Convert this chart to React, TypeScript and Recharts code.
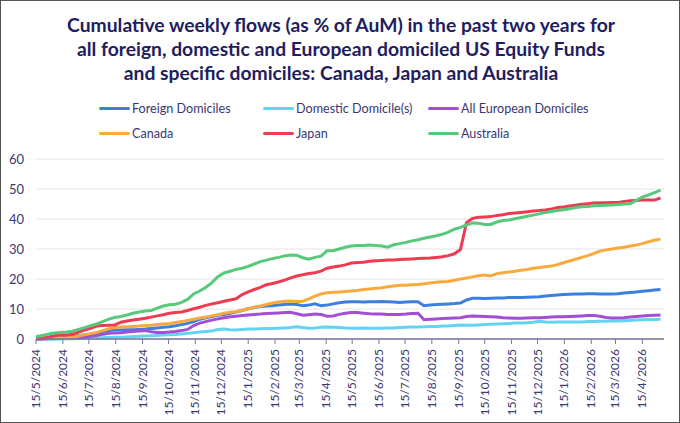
import React from "react";
import { LineChart, Line, XAxis, YAxis, CartesianGrid } from "recharts";

const START = Date.UTC(2024, 4, 15);
const DAY = 86400000;

const foreign = [0,0.1,0.3,0.5,0.7,0.8,1.0,1.2,1.4,1.6,2.0,2.5,2.8,3.0,3.0,3.1,3.1,3.2,3.3,3.5,3.7,3.9,4.1,4.4,4.8,5.2,5.8,6.6,7.1,7.5,7.9,8.2,8.6,9.0,9.5,10.1,10.5,10.8,11.0,11.1,11.3,11.5,11.7,11.5,11.1,11.3,11.7,11.1,11.3,11.7,12.1,12.3,12.4,12.4,12.3,12.4,12.4,12.5,12.4,12.3,12.2,12.3,12.4,12.4,11.1,11.3,11.5,11.6,11.7,11.8,12.0,13.0,13.6,13.6,13.5,13.6,13.7,13.7,13.8,13.8,13.8,13.9,14.0,14.1,14.3,14.5,14.7,14.8,14.9,15.0,15.0,15.1,15.1,15.0,15.0,15.0,15.1,15.3,15.5,15.7,15.9,16.1,16.3,16.5];
const domestic = [0,0,0,0,0,0.1,0.1,0.2,0.2,0.3,0.3,0.4,0.5,0.6,0.6,0.7,0.8,0.9,1.0,1.1,1.2,1.3,1.4,1.5,1.7,1.9,2.1,2.3,2.5,2.7,3.2,3.3,3.1,3.0,3.2,3.3,3.3,3.4,3.5,3.5,3.6,3.7,3.8,4.1,3.8,3.6,3.7,3.9,4.0,3.9,3.8,3.7,3.6,3.6,3.7,3.6,3.6,3.6,3.7,3.7,3.8,3.9,4.0,4.0,4.1,4.2,4.2,4.3,4.3,4.5,4.7,4.6,4.6,4.7,4.8,4.9,5.0,5.1,5.2,5.3,5.3,5.4,5.6,5.9,5.7,5.6,5.7,5.7,5.7,5.7,5.7,5.8,5.8,5.9,5.9,6.0,6.0,6.1,6.2,6.3,6.4,6.5,6.5,6.6];
const european = [0,0,0.1,0.2,0.3,0.4,0.5,0.6,0.7,0.9,1.2,1.6,1.9,2.0,2.1,2.3,2.5,2.7,2.8,2.4,2.2,2.2,2.3,2.5,2.8,3.2,4.5,5.3,5.8,6.3,6.7,7.1,7.4,7.6,7.8,8.0,8.2,8.3,8.5,8.6,8.7,8.8,8.9,8.4,7.9,8.1,8.3,8.2,7.6,7.7,8.2,8.6,8.8,8.8,8.6,8.4,8.3,8.3,8.2,8.2,8.2,8.3,8.5,8.6,6.4,6.6,6.7,6.8,6.9,7.0,7.1,7.5,7.7,7.6,7.5,7.4,7.3,7.1,7.0,6.9,6.9,7.0,7.1,7.1,7.2,7.3,7.4,7.4,7.5,7.6,7.7,7.8,7.8,7.6,7.2,7.0,7.0,7.1,7.3,7.5,7.7,7.8,7.9,8.0];
const canada = [0.3,0.4,0.5,0.6,0.4,0.3,0.6,1.0,1.4,1.8,2.2,2.8,3.4,3.8,4.0,4.1,4.2,4.3,4.5,4.6,4.8,5.0,5.2,5.5,5.8,6.2,6.6,7.0,7.3,7.7,8.1,8.6,8.9,9.1,9.6,10.1,10.6,11.0,11.5,12.0,12.3,12.6,12.7,12.5,12.6,13.4,14.3,15.0,15.4,15.6,15.7,15.8,16.0,16.2,16.5,16.7,16.9,17.1,17.4,17.7,17.9,17.9,18.1,18.2,18.4,18.7,18.9,19.1,19.2,19.6,20.0,20.3,20.7,21.1,21.3,21.0,21.8,22.1,22.3,22.6,22.9,23.2,23.6,23.8,24.1,24.3,24.8,25.4,26.0,26.6,27.2,27.8,28.5,29.3,29.7,30.0,30.3,30.6,31.0,31.3,31.8,32.4,32.9,33.3];
const japan = [0,0.2,0.6,1.1,1.4,1.3,1.6,2.3,3.0,3.6,4.3,4.5,4.6,4.7,5.6,6.0,6.3,6.6,6.9,7.3,7.7,8.1,8.6,8.8,9.0,9.5,10.1,10.6,11.2,11.7,12.1,12.6,13.0,13.4,14.8,15.7,16.5,17.2,18.1,18.5,19.0,19.6,20.4,21.0,21.4,21.8,22.1,22.6,23.6,24.0,24.3,24.7,25.3,25.5,25.6,25.9,26.1,26.2,26.3,26.3,26.5,26.6,26.7,26.8,26.9,27.0,27.2,27.4,27.8,28.4,29.8,38.8,40.2,40.6,40.7,40.8,41.2,41.4,41.8,42.0,42.2,42.4,42.7,42.8,43.0,43.3,43.8,44.0,44.3,44.6,44.9,45.1,45.3,45.4,45.4,45.5,45.5,45.8,46.1,46.2,46.3,46.3,46.3,47.0];
const australia = [0.8,1.2,1.6,2.0,2.2,2.3,2.6,3.2,3.8,4.4,5.0,5.8,6.6,7.2,7.5,8.0,8.6,9.0,9.3,9.5,10.3,11.0,11.4,11.6,12.2,13.2,15.0,16.0,17.2,18.8,20.8,22.0,22.6,23.2,23.6,24.2,25.0,25.8,26.3,26.8,27.2,27.7,28.0,27.9,27.1,26.6,27.2,27.6,29.4,29.4,30.0,30.6,31.0,31.2,31.2,31.3,31.2,31.0,30.6,31.4,31.8,32.2,32.7,33.1,33.6,34.0,34.4,34.9,35.6,36.6,37.2,38.0,38.7,38.6,38.2,38.2,39.0,39.5,39.7,40.1,40.5,40.9,41.3,41.7,42.2,42.5,42.8,43.1,43.4,43.8,44.1,44.2,44.4,44.5,44.6,44.7,44.8,45.0,45.1,46.2,47.3,48.0,48.8,49.6];

const seriesDefs = [
  { key: "foreign", name: "Foreign Domiciles", color: "#3c7fde", values: foreign },
  { key: "domestic", name: "Domestic Domicile(s)", color: "#62d4f2", values: domestic },
  { key: "european", name: "All European Domiciles", color: "#a24fd6", values: european },
  { key: "canada", name: "Canada", color: "#f8aa3e", values: canada },
  { key: "japan", name: "Japan", color: "#ee3b52", values: japan },
  { key: "australia", name: "Australia", color: "#57c97a", values: australia },
];

const yTicks = [0, 10, 20, 30, 40, 50, 60];
const tickMonths: [number, number][] = [];
for (let i = 0; i < 24; i++) {
  const m = 4 + i;
  tickMonths.push([2024 + Math.floor(m / 12), m % 12]);
}
const xTicks = tickMonths.map(([y, m]) => Date.UTC(y, m, 15));

const data = foreign.map((_, i) => {
  const row: Record<string, number> = { date: START + i * 7 * DAY };
  seriesDefs.forEach((s) => (row[s.key] = s.values[i]));
  return row;
});

const fmtDate = (t: number) => {
  const d = new Date(t);
  return `${d.getUTCDate()}/${d.getUTCMonth() + 1}/${d.getUTCFullYear()}`;
};

const FONT = "Lato, 'Open Sans', sans-serif";
const TEXT = "#3a3870";

const XTick = (props: any) => {
  const { x, y, payload } = props;
  return (
    <g transform={`translate(${x},${y})`}>
      <text
        transform="rotate(-90)"
        x={-3}
        y={4}
        textAnchor="end"
        fill={TEXT}
        fontSize={12}
        fontFamily={FONT}
      >
        {fmtDate(payload.value)}
      </text>
    </g>
  );
};

const legendCols = [99, 263, 428];
const legendRows = [107, 132];

export default function App() {
  return (
    <div
      style={{
        position: "absolute",
        left: 0,
        top: 0,
        width: 680,
        height: 423,
        boxSizing: "border-box",
        border: "1px solid #555",
        background: "#fff",
        fontFamily: FONT,
        overflow: "hidden",
      }}
    >
      <div
        style={{
          position: "absolute",
          left: 0,
          top: 12,
          width: 680,
          textAlign: "center",
          color: "#221d5e",
          fontWeight: 700,
          fontSize: 19.3,
          lineHeight: "24px",
        }}
      >
        Cumulative weekly flows (as % of AuM) in the past two years for
        <br />
        all foreign, domestic and European domiciled US Equity Funds
        <br />
        and specific domiciles: Canada, Japan and Australia
      </div>
      {seriesDefs.map((s, i) => (
        <div
          key={s.key}
          style={{
            position: "absolute",
            left: legendCols[i % 3] - 1,
            top: legendRows[Math.floor(i / 3)] - 10,
            height: 20,
            display: "flex",
            alignItems: "center",
            fontSize: 12.6,
            color: TEXT,
            whiteSpace: "nowrap",
          }}
        >
          <span
            style={{
              display: "inline-block",
              width: 31,
              height: 3,
              borderRadius: 2,
              background: s.color,
              marginRight: 2,
            }}
          />
          {s.name}
        </div>
      ))}
      <div style={{ position: "absolute", left: -1, top: -1 }}>
        <LineChart
          width={680}
          height={423}
          data={data}
          margin={{ top: 159, right: 16, bottom: 0, left: 0 }}
        >
          <CartesianGrid vertical={false} stroke="#e4e4e4" strokeWidth={1} />
          <XAxis
            dataKey="date"
            type="number"
            scale="time"
            domain={[START, START + 725 * DAY]}
            ticks={xTicks}
            tick={<XTick />}
            axisLine={{ stroke: "#77779f", strokeWidth: 1.5 }}
            tickLine={{ stroke: "#77779f" }}
            tickSize={5}
            interval={0}
            height={84}
          />
          <YAxis
            type="number"
            domain={[0, 60]}
            ticks={yTicks}
            width={36}
            axisLine={false}
            tickLine={false}
            tickSize={0}
            tickMargin={12}
            tick={{ fill: TEXT, fontSize: 13, fontFamily: FONT }}
          />
          {seriesDefs.map((s) => (
            <Line
              key={s.key}
              dataKey={s.key}
              name={s.name}
              stroke={s.color}
              strokeWidth={3}
              dot={false}
              type="linear"
              isAnimationActive={false}
            />
          ))}
        </LineChart>
      </div>
    </div>
  );
}
